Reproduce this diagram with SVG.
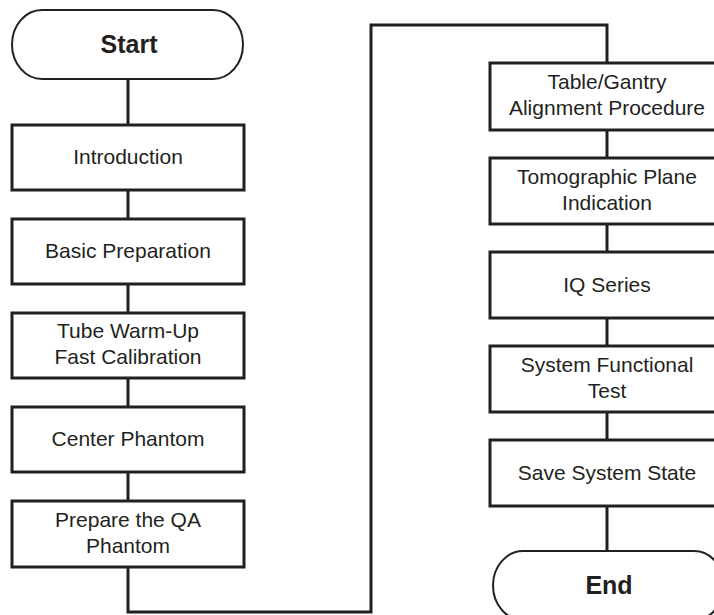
<svg xmlns="http://www.w3.org/2000/svg" width="714" height="615" viewBox="0 0 714 615">
<style>
.box{fill:#fff;stroke:#231f20;stroke-width:3}
.term{fill:#fff;stroke:#231f20;stroke-width:2}
.lbl{font-family:"Liberation Sans",Arial,sans-serif;font-size:21px;fill:#231f20;text-anchor:middle}
.tl{font-family:"Liberation Sans",Arial,sans-serif;font-size:25px;font-weight:bold;fill:#231f20;text-anchor:middle}
.conn{fill:none;stroke:#231f20;stroke-width:3}
</style>
<rect width="714" height="615" fill="#fff"/>
<g id="connectors">
<path class="conn" d="M128 79V125M128 190V219M128 284V313M128 378V407M128 472V501M128 567V612H371V25H607V63"/>
<path class="conn" d="M607 130V158M607 224V252M607 318V346M607 412V440M607 506V551"/>
</g>
<g id="start"><rect class="term" x="12" y="10" width="231" height="69" rx="30" ry="34.5"/><text class="tl" x="129" y="53">Start</text></g>
<g id="introduction"><rect class="box" x="12" y="125" width="232" height="65"/><text class="lbl" x="128" y="164">Introduction</text></g>
<g id="basic-preparation"><rect class="box" x="12" y="219" width="232" height="65"/><text class="lbl" x="128" y="258">Basic Preparation</text></g>
<g id="tube-warmup"><rect class="box" x="12" y="313" width="232" height="65"/><text class="lbl" x="128" y="338">Tube Warm-Up</text><text class="lbl" x="128" y="364">Fast Calibration</text></g>
<g id="center-phantom"><rect class="box" x="12" y="407" width="232" height="65"/><text class="lbl" x="128" y="446">Center Phantom</text></g>
<g id="prepare-qa"><rect class="box" x="12" y="501" width="232" height="66"/><text class="lbl" x="128" y="527">Prepare the QA</text><text class="lbl" x="128" y="553">Phantom</text></g>
<g id="table-gantry"><rect class="box" x="490" y="63" width="234" height="67"/><text class="lbl" x="607" y="89">Table/Gantry</text><text class="lbl" x="607" y="115">Alignment Procedure</text></g>
<g id="tomographic"><rect class="box" x="490" y="158" width="234" height="66"/><text class="lbl" x="607" y="184">Tomographic Plane</text><text class="lbl" x="607" y="210">Indication</text></g>
<g id="iq-series"><rect class="box" x="490" y="252" width="234" height="66"/><text class="lbl" x="607" y="292">IQ Series</text></g>
<g id="system-functional"><rect class="box" x="490" y="346" width="234" height="66"/><text class="lbl" x="607" y="372">System Functional</text><text class="lbl" x="607" y="398">Test</text></g>
<g id="save-state"><rect class="box" x="490" y="440" width="234" height="66"/><text class="lbl" x="607" y="480">Save System State</text></g>
<g id="end"><rect class="term" x="493" y="551" width="231" height="69" rx="30" ry="34.5"/><text class="tl" x="609" y="594">End</text></g>
</svg>
